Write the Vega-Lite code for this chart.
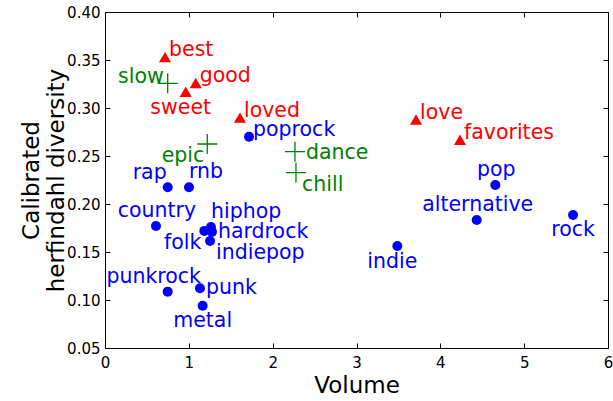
{
  "$schema": "https://vega.github.io/schema/vega-lite/v6.json",
  "width": 503,
  "height": 336,
  "autosize": "none",
  "padding": {"left": 105, "top": 12, "right": 5, "bottom": 53},
  "background": "white",
  "config": {
    "font": "DejaVu Sans",
    "view": {"stroke": "black", "strokeWidth": 1},
    "axis": {
      "domain": false,
      "grid": false,
      "ticks": true,
      "tickColor": "black",
      "tickWidth": 1,
      "tickSize": -5,
      "labelFlush": false,
      "labelOverlap": false,
      "labelFont": "DejaVu Sans",
      "labelFontSize": 15,
      "labelColor": "black",
      "titleFont": "DejaVu Sans",
      "titleFontSize": 23,
      "titleFontWeight": "normal",
      "titleColor": "black"
    }
  },
  "data": {
    "values": [
      {"term": "best", "group": "adjective", "volume": 7160000, "diversity": 0.353},
      {"term": "good", "group": "adjective", "volume": 10820000, "diversity": 0.326},
      {"term": "sweet", "group": "adjective", "volume": 9630000, "diversity": 0.317},
      {"term": "loved", "group": "adjective", "volume": 16100000, "diversity": 0.29},
      {"term": "love", "group": "adjective", "volume": 37100000, "diversity": 0.288},
      {"term": "favorites", "group": "adjective", "volume": 42350000, "diversity": 0.267},
      {"term": "slow", "group": "mood", "volume": 7480000, "diversity": 0.3257},
      {"term": "epic", "group": "mood", "volume": 12200000, "diversity": 0.2625},
      {"term": "dance", "group": "mood", "volume": 22660000, "diversity": 0.2545},
      {"term": "chill", "group": "mood", "volume": 22780000, "diversity": 0.2326},
      {"term": "poprock", "group": "genre", "volume": 17180000, "diversity": 0.27},
      {"term": "rap", "group": "genre", "volume": 7480000, "diversity": 0.2174},
      {"term": "rnb", "group": "genre", "volume": 10020000, "diversity": 0.2174},
      {"term": "country", "group": "genre", "volume": 6080000, "diversity": 0.177},
      {"term": "hiphop", "group": "genre", "volume": 12640000, "diversity": 0.176},
      {"term": "hardrock", "group": "genre", "volume": 12760000, "diversity": 0.171},
      {"term": "folk", "group": "genre", "volume": 11850000, "diversity": 0.172},
      {"term": "indiepop", "group": "genre", "volume": 12530000, "diversity": 0.1615},
      {"term": "punkrock", "group": "genre", "volume": 7480000, "diversity": 0.1087},
      {"term": "punk", "group": "genre", "volume": 11330000, "diversity": 0.1122},
      {"term": "metal", "group": "genre", "volume": 11650000, "diversity": 0.094},
      {"term": "pop", "group": "genre", "volume": 46560000, "diversity": 0.2198},
      {"term": "alternative", "group": "genre", "volume": 44340000, "diversity": 0.1833},
      {"term": "rock", "group": "genre", "volume": 55830000, "diversity": 0.1885},
      {"term": "indie", "group": "genre", "volume": 34870000, "diversity": 0.1563}
    ]
  },
  "encoding": {
    "x": {"field": "volume", "type": "quantitative", "scale": {"domain": [0, 60000000], "nice": false, "zero": false}, "axis": null},
    "y": {"field": "diversity", "type": "quantitative", "scale": {"domain": [0.05, 0.4], "nice": false, "zero": false}, "axis": null},
    "color": {"field": "group", "type": "nominal", "scale": {"domain": ["genre", "adjective", "mood"], "range": ["#0000ff", "#ff0000", "#008000"]}, "legend": null}
  },
  "resolve": {"axis": {"x": "independent", "y": "independent"}},
  "layer": [
    {
      "mark": {"type": "point", "opacity": 0},
      "encoding": {
        "x": {"field": "volume", "type": "quantitative", "title": "Volume",
              "axis": {"orient": "bottom", "values": [0, 10000000, 20000000, 30000000, 40000000, 50000000, 60000000], "labelExpr": "format(datum.value / 10000000, 'd')", "labelPadding": 12, "titlePadding": 4}},
        "y": {"field": "diversity", "type": "quantitative", "title": ["Calibrated", "herfindahl diversity"],
              "axis": {"orient": "left", "values": [0.05, 0.1, 0.15, 0.2, 0.25, 0.3, 0.35, 0.4], "format": ".2f", "labelPadding": 10, "titleX": -74, "titleY": 168, "titleAlign": "center", "titleBaseline": "middle", "titleLineHeight": 25, "titleAngle": -90}}
      }
    },
    {
      "mark": {"type": "point", "opacity": 0},
      "encoding": {
        "x": {"field": "volume", "type": "quantitative", "axis": {"orient": "top", "labels": false, "title": null, "values": [0, 10000000, 20000000, 30000000, 40000000, 50000000, 60000000]}},
        "y": {"field": "diversity", "type": "quantitative", "axis": {"orient": "right", "labels": false, "title": null, "values": [0.05, 0.1, 0.15, 0.2, 0.25, 0.3, 0.35, 0.4]}}
      }
    },
    {
      "transform": [{"filter": "datum.group === 'genre'"}],
      "mark": {"type": "circle", "size": 100, "opacity": 1}
    },
    {
      "transform": [{"filter": "datum.group === 'adjective'"}],
      "mark": {"type": "point", "shape": "triangle-up", "filled": true, "size": 145, "opacity": 1}
    },
    {
      "transform": [{"filter": "datum.group === 'mood'"}],
      "mark": {"type": "point", "shape": "M-1,0L1,0M0,-1L0,1", "filled": false, "size": 400, "strokeWidth": 1.3, "opacity": 1}
    },
    {
      "transform": [{"filter": {"field": "term", "oneOf": ["best", "good", "loved", "love", "favorites", "poprock"]}}],
      "mark": {"type": "text", "font": "DejaVu Sans", "fontSize": 20.5, "align": "left", "baseline": "alphabetic", "dx": 4, "dy": -1},
      "encoding": {"text": {"field": "term"}}
    },
    {
      "transform": [{"filter": {"field": "term", "oneOf": ["dance"]}}],
      "mark": {"type": "text", "font": "DejaVu Sans", "fontSize": 20.5, "align": "left", "baseline": "alphabetic", "dx": 11, "dy": 7},
      "encoding": {"text": {"field": "term"}}
    },
    {
      "transform": [{"filter": {"field": "term", "oneOf": ["punk", "hardrock"]}}],
      "mark": {"type": "text", "font": "DejaVu Sans", "fontSize": 20.5, "align": "left", "baseline": "alphabetic", "dx": 6, "dy": 6},
      "encoding": {"text": {"field": "term"}}
    },
    {
      "transform": [{"filter": {"field": "term", "oneOf": ["chill", "indiepop"]}}],
      "mark": {"type": "text", "font": "DejaVu Sans", "fontSize": 20.5, "align": "left", "baseline": "alphabetic", "dx": 6, "dy": 18},
      "encoding": {"text": {"field": "term"}}
    },
    {
      "transform": [{"filter": {"field": "term", "oneOf": ["country", "pop", "alternative"]}}],
      "mark": {"type": "text", "font": "DejaVu Sans", "fontSize": 20.5, "align": "center", "baseline": "alphabetic", "dx": 1, "dy": -9},
      "encoding": {"text": {"field": "term"}}
    },
    {
      "transform": [{"filter": {"field": "term", "oneOf": ["punkrock"]}}],
      "mark": {"type": "text", "font": "DejaVu Sans", "fontSize": 20.5, "align": "center", "baseline": "alphabetic", "dx": -14, "dy": -9},
      "encoding": {"text": {"field": "term"}}
    },
    {
      "transform": [{"filter": {"field": "term", "oneOf": ["rap"]}}],
      "mark": {"type": "text", "font": "DejaVu Sans", "fontSize": 20.5, "align": "right", "baseline": "alphabetic", "dx": -1, "dy": -8},
      "encoding": {"text": {"field": "term"}}
    },
    {
      "transform": [{"filter": {"field": "term", "oneOf": ["rnb", "hiphop"]}}],
      "mark": {"type": "text", "font": "DejaVu Sans", "fontSize": 20.5, "align": "left", "baseline": "alphabetic", "dx": 0, "dy": -9},
      "encoding": {"text": {"field": "term"}}
    },
    {
      "transform": [{"filter": {"field": "term", "oneOf": ["metal", "rock"]}}],
      "mark": {"type": "text", "font": "DejaVu Sans", "fontSize": 20.5, "align": "center", "baseline": "alphabetic", "dx": 0, "dy": 21},
      "encoding": {"text": {"field": "term"}}
    },
    {
      "transform": [{"filter": {"field": "term", "oneOf": ["sweet", "indie"]}}],
      "mark": {"type": "text", "font": "DejaVu Sans", "fontSize": 20.5, "align": "center", "baseline": "alphabetic", "dx": -5, "dy": 22},
      "encoding": {"text": {"field": "term"}}
    },
    {
      "transform": [{"filter": {"field": "term", "oneOf": ["folk", "epic"]}}],
      "mark": {"type": "text", "font": "DejaVu Sans", "fontSize": 20.5, "align": "right", "baseline": "alphabetic", "dx": -3, "dy": 18},
      "encoding": {"text": {"field": "term"}}
    },
    {
      "transform": [{"filter": {"field": "term", "oneOf": ["slow"]}}],
      "mark": {"type": "text", "font": "DejaVu Sans", "fontSize": 20.5, "align": "right", "baseline": "alphabetic", "dx": -4, "dy": 0},
      "encoding": {"text": {"field": "term"}}
    },
    {
      "data": {"values": [{"label": "1e7"}]},
      "mark": {"type": "text", "font": "DejaVu Sans", "fontSize": 15, "align": "right", "baseline": "middle", "dx": 1, "dy": 32, "clip": false},
      "encoding": {
        "x": {"datum": 60000000, "type": "quantitative", "axis": null},
        "y": {"datum": 0.05, "type": "quantitative", "axis": null},
        "text": {"field": "label"},
        "color": {"value": "black"}
      }
    }
  ]
}
